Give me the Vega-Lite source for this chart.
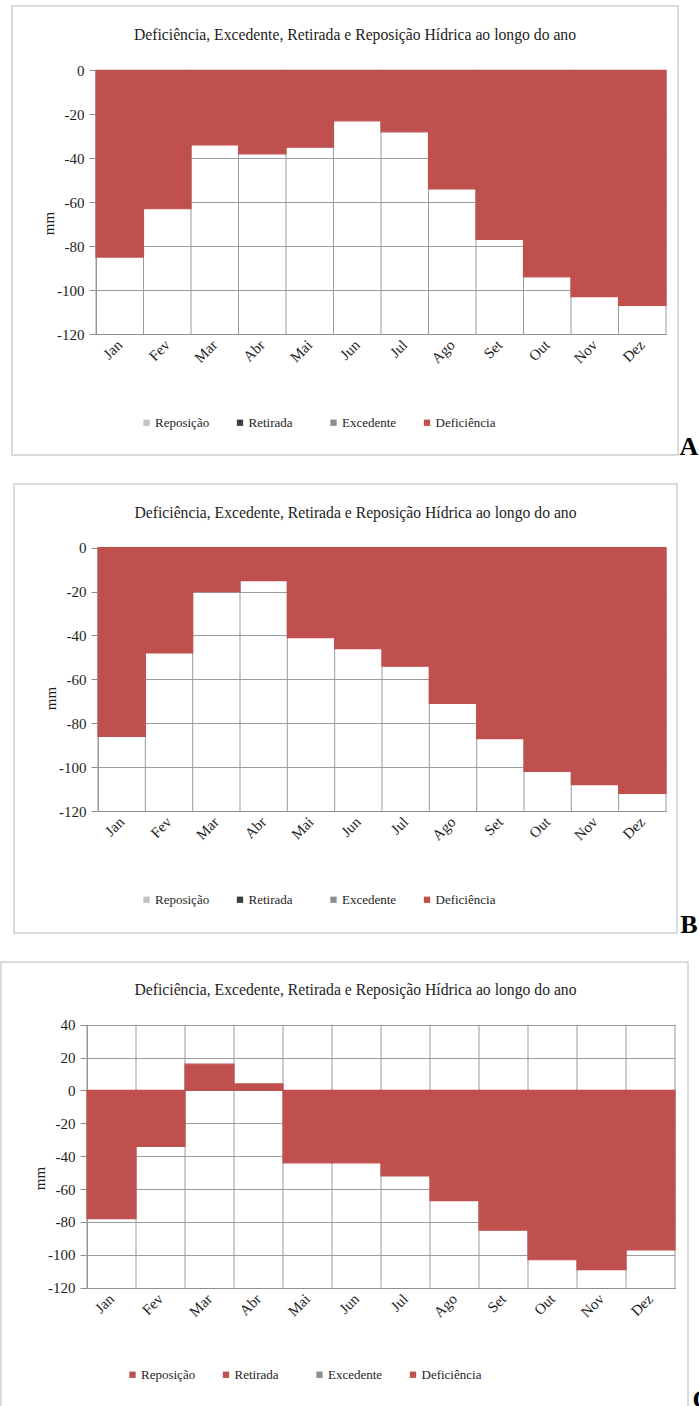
{
  "$schema": "https://vega.github.io/schema/vega-lite/v6.json",
  "background": "white",
  "padding": {"left": 0, "top": 5, "right": 0, "bottom": 0},
  "spacing": 23,
  "resolve": {"scale": {"x": "independent", "y": "independent", "color": "independent"}, "legend": {"color": "independent"}},
  "config": {
    "font": "Liberation Serif",
    "view": {"stroke": "#CFCFCF", "strokeWidth": 1.5},
    "axis": {
      "labelFont": "Liberation Serif", "labelFontSize": 15, "labelColor": "#1E1E1E",
      "titleFont": "Liberation Serif", "titleFontSize": 15, "titleFontWeight": "normal", "titleColor": "#1E1E1E",
      "domainColor": "#8E8E8E", "tickColor": "#8E8E8E", "gridColor": "#9C9C9C", "gridOpacity": 1
    },
    "legend": {
      "direction": "horizontal", "columns": 4, "gridAlign": "all", "columnPadding": 18.5, "padding": 0,
      "symbolType": "square", "symbolSize": 40, "symbolStrokeWidth": 0,
      "labelFont": "Liberation Serif", "labelFontSize": 13, "labelColor": "#1E1E1E", "labelOffset": 2
    },
    "title": {"font": "Liberation Serif", "fontSize": 15.7, "fontWeight": "normal", "color": "#1E1E1E", "anchor": "middle", "baseline": "alphabetic"}
  },
  "datasets": {
    "A": [
      {"mes": "Jan", "mm": -85, "serie": "Deficiência"},
      {"mes": "Fev", "mm": -63, "serie": "Deficiência"},
      {"mes": "Mar", "mm": -34, "serie": "Deficiência"},
      {"mes": "Abr", "mm": -38, "serie": "Deficiência"},
      {"mes": "Mai", "mm": -35, "serie": "Deficiência"},
      {"mes": "Jun", "mm": -23, "serie": "Deficiência"},
      {"mes": "Jul", "mm": -28, "serie": "Deficiência"},
      {"mes": "Ago", "mm": -54, "serie": "Deficiência"},
      {"mes": "Set", "mm": -77, "serie": "Deficiência"},
      {"mes": "Out", "mm": -94, "serie": "Deficiência"},
      {"mes": "Nov", "mm": -103, "serie": "Deficiência"},
      {"mes": "Dez", "mm": -107, "serie": "Deficiência"}
    ],
    "B": [
      {"mes": "Jan", "mm": -86, "serie": "Deficiência"},
      {"mes": "Fev", "mm": -48, "serie": "Deficiência"},
      {"mes": "Mar", "mm": -20, "serie": "Deficiência"},
      {"mes": "Abr", "mm": -15, "serie": "Deficiência"},
      {"mes": "Mai", "mm": -41, "serie": "Deficiência"},
      {"mes": "Jun", "mm": -46, "serie": "Deficiência"},
      {"mes": "Jul", "mm": -54, "serie": "Deficiência"},
      {"mes": "Ago", "mm": -71, "serie": "Deficiência"},
      {"mes": "Set", "mm": -87, "serie": "Deficiência"},
      {"mes": "Out", "mm": -102, "serie": "Deficiência"},
      {"mes": "Nov", "mm": -108, "serie": "Deficiência"},
      {"mes": "Dez", "mm": -112, "serie": "Deficiência"}
    ],
    "C": [
      {"mes": "Jan", "mm": -78, "serie": "Deficiência"},
      {"mes": "Fev", "mm": -34, "serie": "Deficiência"},
      {"mes": "Mar", "mm": 16, "serie": "Reposição"},
      {"mes": "Abr", "mm": 4, "serie": "Reposição"},
      {"mes": "Mai", "mm": -44, "serie": "Deficiência"},
      {"mes": "Jun", "mm": -44, "serie": "Deficiência"},
      {"mes": "Jul", "mm": -52, "serie": "Deficiência"},
      {"mes": "Ago", "mm": -67, "serie": "Deficiência"},
      {"mes": "Set", "mm": -85, "serie": "Deficiência"},
      {"mes": "Out", "mm": -103, "serie": "Deficiência"},
      {"mes": "Nov", "mm": -109, "serie": "Deficiência"},
      {"mes": "Dez", "mm": -97, "serie": "Deficiência"}
    ]
  },
  "vconcat": [
    {
      "spacing": 0,
      "bounds": "flush",
      "resolve": {"scale": {"color": "independent"}, "legend": {"color": "independent"}},
      "hconcat": [
        {"width": 11, "height": 10, "data": {"values": []}, "mark": "point", "view": {"stroke": null}},
        {
          "width": 666, "height": 449,
          "data": {"name": "A"},
          "title": {"text": "Deficiência, Excedente, Retirada e Reposição Hídrica ao longo do ano", "offset": -38, "dx": 10},
          "layer": [
            {
              "mark": {"type": "rule", "color": "#9C9C9C", "strokeWidth": 1},
              "encoding": {
                "x": {"field": "mes", "type": "nominal", "bandPosition": 0, "sort": ["Jan","Fev","Mar","Abr","Mai","Jun","Jul","Ago","Set","Out","Nov","Dez"],
                      "scale": {"type": "band", "range": [84, 654], "paddingInner": 0, "paddingOuter": 0}},
                "y": {"datum": -120}, "y2": {"datum": 0}
              }
            },
            {
              "transform": [{"filter": "datum.mes === 'Dez'"}],
              "mark": {"type": "rule", "color": "#9C9C9C", "strokeWidth": 1},
              "encoding": {
                "x": {"field": "mes", "type": "nominal", "bandPosition": 1, "sort": ["Jan","Fev","Mar","Abr","Mai","Jun","Jul","Ago","Set","Out","Nov","Dez"],
                      "scale": {"type": "band", "range": [84, 654], "paddingInner": 0, "paddingOuter": 0}},
                "y": {"datum": -120}, "y2": {"datum": 0}
              }
            },
            {
              "mark": {"type": "bar", "stroke": "#C0504D", "strokeWidth": 1.2},
              "encoding": {
                "x": {"field": "mes", "type": "nominal", "sort": ["Jan","Fev","Mar","Abr","Mai","Jun","Jul","Ago","Set","Out","Nov","Dez"],
                      "scale": {"type": "band", "range": [84, 654], "paddingInner": 0, "paddingOuter": 0},
                      "axis": {"title": null, "offset": -121, "labelAngle": -45, "grid": false, "ticks": false, "labelPadding": 8}},
                "y": {"field": "mm", "type": "quantitative",
                      "scale": {"domain": [-120, 0], "range": [328, 64.3], "nice": false, "zero": false},
                      "axis": {"title": "mm", "offset": -84, "values": [-120,-100,-80,-60,-40,-20,0], "grid": true, "tickSize": 7, "labelPadding": 5,
                               "labelExpr": "toString(datum.value)",
                               "titleX": -48, "titleY": 217, "titleAngle": -90, "titleBaseline": "middle", "titleAlign": "center"}},
                "color": {"field": "serie", "type": "nominal",
                          "scale": {"domain": ["Reposição","Retirada","Excedente","Deficiência"], "range": ["#C3C3C3","#3F3F3F","#8E8E8E","#C0504D"]},
                          "legend": {"title": null, "orient": "none", "legendX": 128, "legendY": 410, "labelFont": "Liberation Serif"}}
              }
            }
          ]
        },
        {
          "width": 22, "height": 449,
          "data": {"values": [{"letra": "A"}]},
          "mark": {"type": "text", "font": "Liberation Serif", "fontSize": 26, "fontWeight": "bold", "color": "#000000", "align": "center", "baseline": "alphabetic"},
          "encoding": {"text": {"field": "letra"}, "y": {"value": "height"}},
          "view": {"stroke": null}
        }
      ]
    },
    {
      "spacing": 0,
      "bounds": "flush",
      "resolve": {"scale": {"color": "independent"}, "legend": {"color": "independent"}},
      "hconcat": [
        {"width": 13, "height": 10, "data": {"values": []}, "mark": "point", "view": {"stroke": null}},
        {
          "width": 663, "height": 449,
          "data": {"name": "B"},
          "title": {"text": "Deficiência, Excedente, Retirada e Reposição Hídrica ao longo do ano", "offset": -38, "dx": 10},
          "layer": [
            {
              "mark": {"type": "rule", "color": "#9C9C9C", "strokeWidth": 1},
              "encoding": {
                "x": {"field": "mes", "type": "nominal", "bandPosition": 0, "sort": ["Jan","Fev","Mar","Abr","Mai","Jun","Jul","Ago","Set","Out","Nov","Dez"],
                      "scale": {"type": "band", "range": [84, 652], "paddingInner": 0, "paddingOuter": 0}},
                "y": {"datum": -120}, "y2": {"datum": 0}
              }
            },
            {
              "transform": [{"filter": "datum.mes === 'Dez'"}],
              "mark": {"type": "rule", "color": "#9C9C9C", "strokeWidth": 1},
              "encoding": {
                "x": {"field": "mes", "type": "nominal", "bandPosition": 1, "sort": ["Jan","Fev","Mar","Abr","Mai","Jun","Jul","Ago","Set","Out","Nov","Dez"],
                      "scale": {"type": "band", "range": [84, 652], "paddingInner": 0, "paddingOuter": 0}},
                "y": {"datum": -120}, "y2": {"datum": 0}
              }
            },
            {
              "mark": {"type": "bar", "stroke": "#C0504D", "strokeWidth": 1.2},
              "encoding": {
                "x": {"field": "mes", "type": "nominal", "sort": ["Jan","Fev","Mar","Abr","Mai","Jun","Jul","Ago","Set","Out","Nov","Dez"],
                      "scale": {"type": "band", "range": [84, 652], "paddingInner": 0, "paddingOuter": 0},
                      "axis": {"title": null, "offset": -122, "labelAngle": -45, "grid": false, "ticks": false, "labelPadding": 8}},
                "y": {"field": "mm", "type": "quantitative",
                      "scale": {"domain": [-120, 0], "range": [327, 63.7], "nice": false, "zero": false},
                      "axis": {"title": "mm", "offset": -84, "values": [-120,-100,-80,-60,-40,-20,0], "grid": true, "tickSize": 7, "labelPadding": 5,
                               "labelExpr": "toString(datum.value)",
                               "titleX": -48, "titleY": 214, "titleAngle": -90, "titleBaseline": "middle", "titleAlign": "center"}},
                "color": {"field": "serie", "type": "nominal",
                          "scale": {"domain": ["Reposição","Retirada","Excedente","Deficiência"], "range": ["#C3C3C3","#3F3F3F","#8E8E8E","#C0504D"]},
                          "legend": {"title": null, "orient": "none", "legendX": 126, "legendY": 409, "labelFont": "Liberation Serif"}}
              }
            }
          ]
        },
        {
          "width": 24, "height": 449,
          "data": {"values": [{"letra": "B"}]},
          "mark": {"type": "text", "font": "Liberation Serif", "fontSize": 26, "fontWeight": "bold", "color": "#000000", "align": "center", "baseline": "alphabetic"},
          "encoding": {"text": {"field": "letra"}, "y": {"value": "height"}},
          "view": {"stroke": null}
        }
      ]
    },
    {
      "spacing": 0,
      "bounds": "flush",
      "resolve": {"scale": {"color": "independent"}, "legend": {"color": "independent"}},
      "hconcat": [
        {
          "width": 687, "height": 446,
          "data": {"name": "C"},
          "title": {"text": "Deficiência, Excedente, Retirada e Reposição Hídrica ao longo do ano", "offset": -37, "dx": 11},
          "layer": [
            {
              "mark": {"type": "rule", "color": "#9C9C9C", "strokeWidth": 1},
              "encoding": {
                "x": {"field": "mes", "type": "nominal", "bandPosition": 0, "sort": ["Jan","Fev","Mar","Abr","Mai","Jun","Jul","Ago","Set","Out","Nov","Dez"],
                      "scale": {"type": "band", "range": [86, 674], "paddingInner": 0, "paddingOuter": 0}},
                "y": {"datum": -120}, "y2": {"datum": 40}
              }
            },
            {
              "transform": [{"filter": "datum.mes === 'Dez'"}],
              "mark": {"type": "rule", "color": "#9C9C9C", "strokeWidth": 1},
              "encoding": {
                "x": {"field": "mes", "type": "nominal", "bandPosition": 1, "sort": ["Jan","Fev","Mar","Abr","Mai","Jun","Jul","Ago","Set","Out","Nov","Dez"],
                      "scale": {"type": "band", "range": [86, 674], "paddingInner": 0, "paddingOuter": 0}},
                "y": {"datum": -120}, "y2": {"datum": 40}
              }
            },
            {
              "mark": {"type": "bar", "stroke": "#C0504D", "strokeWidth": 1.2},
              "encoding": {
                "x": {"field": "mes", "type": "nominal", "sort": ["Jan","Fev","Mar","Abr","Mai","Jun","Jul","Ago","Set","Out","Nov","Dez"],
                      "scale": {"type": "band", "range": [86, 674], "paddingInner": 0, "paddingOuter": 0},
                      "axis": {"title": null, "offset": -120, "labelAngle": -45, "grid": false, "ticks": false, "labelPadding": 8}},
                "y": {"field": "mm", "type": "quantitative",
                      "scale": {"domain": [-120, 40], "range": [325.7, 62.7], "nice": false, "zero": false},
                      "axis": {"title": "mm", "offset": -86, "values": [-120,-100,-80,-60,-40,-20,0,20,40], "grid": true, "tickSize": 7, "labelPadding": 5,
                               "labelExpr": "toString(datum.value)",
                               "titleX": -48, "titleY": 216, "titleAngle": -90, "titleBaseline": "middle", "titleAlign": "center"}},
                "color": {"field": "serie", "type": "nominal",
                          "scale": {"domain": ["Reposição","Retirada","Excedente","Deficiência"], "range": ["#C0504D","#C0504D","#8E8E8E","#C0504D"]},
                          "legend": {"title": null, "orient": "none", "legendX": 125, "legendY": 406, "labelFont": "Liberation Serif"}}
              }
            }
          ]
        },
        {
          "width": 28, "height": 446,
          "data": {"values": [{"letra": "C"}]},
          "mark": {"type": "text", "font": "Liberation Serif", "fontSize": 26, "fontWeight": "bold", "color": "#000000", "align": "center", "baseline": "alphabetic"},
          "encoding": {"text": {"field": "letra"}, "y": {"value": "height"}},
          "view": {"stroke": null}
        }
      ]
    }
  ]
}
